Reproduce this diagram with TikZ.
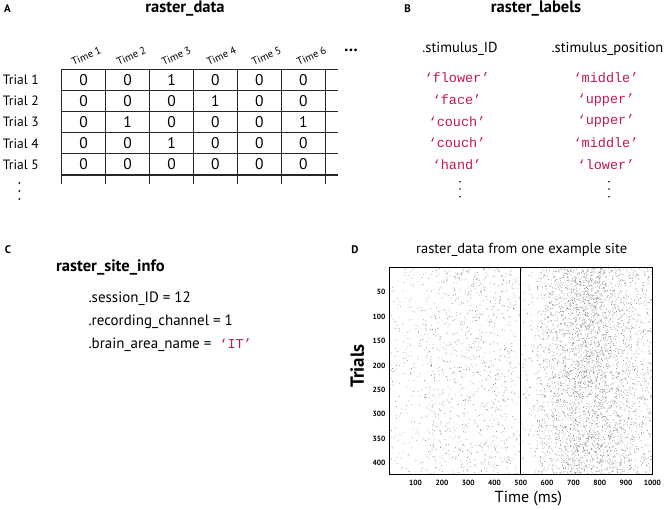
\documentclass[tikz,border=0pt]{standalone}
\usepackage{fontspec}
\setmainfont{PT Sans}
\setmonofont{Liberation Mono}
\definecolor{codered}{RGB}{196,24,80}
\begin{document}
\begin{tikzpicture}[x=1pt,y=-1pt,
  panelletter/.style={font=\bfseries\fontsize{11}{12}\selectfont, inner sep=0},
  ttl/.style={font=\bfseries\fontsize{16.5}{18}\selectfont, inner sep=0},
  body/.style={font=\fontsize{14.5}{16}\selectfont, inner sep=0},
  rowlab/.style={font=\fontsize{13.5}{15}\selectfont, inner sep=0, anchor=west},
  cell/.style={font=\fontsize{15.5}{17}\selectfont, inner sep=0},
  colhead/.style={font=\fontsize{10.5}{12}\selectfont, inner sep=0, rotate=25},
  code/.style={font=\ttfamily\fontsize{13.5}{15}\selectfont, text=codered, inner sep=0},
  grid/.style={line width=1.2pt, draw=black!85},
  tick/.style={font=\bfseries\fontsize{7.5}{8}\selectfont, inner sep=0},
  vdot/.style={fill=black, circle, minimum size=2pt, inner sep=0},
  spike/.style={fill=black!42}
]
\useasboundingbox (0,0) rectangle (669,509);

% ---------- Panel A ----------
\node[panelletter] (lA) at (7.5,8.5) {A};
\node[ttl] (tA) at (185,8.5) {raster\_data};
\foreach \c in {1,...,6}
  \node[colhead] (th\c) at ({86.2+(\c-1)*45.06},56) {Time \c};
\node[font=\bfseries\fontsize{17}{18}\selectfont, inner sep=0] (hdots) at (351,50) {\dots};
% grid
\foreach \k in {0,...,5}
  \draw[grid] (61.7,{69.3+\k*21.14}) -- (338,{69.3+\k*21.14});
\foreach \k in {0,...,6}
  \draw[grid] ({61.7+\k*43.93},69.3) -- ({61.7+\k*43.93},184);
% cells
\foreach \r/\vals in {1/{0,0,1,0,0,0},2/{0,0,0,1,0,0},3/{0,1,0,0,0,1},4/{0,0,1,0,0,0},5/{0,0,0,0,0,0}}{
  \node[rowlab] (tr\r) at (2.7,{69.3+(\r-0.5)*21.14}) {Trial \r};
  \foreach \v [count=\c] in \vals
    \node[cell] (c\r-\c) at ({61.7+(\c-0.5)*43.93},{69.3+(\r-0.5)*21.14}) {\v};
}
\foreach \y [count=\i] in {183,191,199}
  \node[vdot] (ad\i) at (19.3,\y) {};

% ---------- Panel B ----------
\node[panelletter] (lB) at (407.7,8.5) {B};
\node[ttl] (tB) at (536,8.5) {raster\_labels};
\node[body] (hid) at (460,49) {.stimulus\_ID};
\node[body] (hpos) at (607.5,49) {.stimulus\_position};
\foreach \w/\p [count=\i] in {flower/middle,face/upper,couch/upper,couch/middle,hand/lower}{
  \node[code] (id\i) at (457,{78+(\i-1)*21.6}) {‘\w’};
  \node[code] (pos\i) at (606,{78+(\i-1)*21.6}) {‘\p’};
}
\foreach \y [count=\i] in {181.7,189,196.7}{
  \node[vdot, minimum size=1.8pt] (bd\i) at (460,\y) {};
  \node[vdot, minimum size=1.8pt] (be\i) at (609,\y) {};
}

% ---------- Panel C ----------
\node[panelletter] (lC) at (8,250) {C};
\node[ttl, anchor=west] (tC) at (56,267.3) {raster\_site\_info};
\node[body, anchor=west, font=\fontsize{15}{17}\selectfont] (s1) at (88.3,299) {.session\_ID = 12};
\node[body, anchor=west, font=\fontsize{15}{17}\selectfont] (s2) at (88.3,321.7) {.recording\_channel = 1};
\node[body, anchor=west, font=\fontsize{15}{17}\selectfont] (s3) at (88.3,345) {.brain\_area\_name =\hspace{8pt}{\ttfamily\fontsize{13.5}{15}\selectfont\color{codered}‘IT’}};

% ---------- Panel D ----------
\node[panelletter] (lD) at (355,250) {D};
\node[body] (tD) at (521.7,250) {raster\_data from one example site};
\pgfmathsetseed{7}
% baseline spikes
\fill[spike] foreach \i in {1,...,1600} {({389.3+262*rnd},{267.9+205.6*rnd}) rectangle ++(0.75,0.75)};
% weak pre-stimulus band
\fill[spike] foreach \i in {1,...,400} {({389.3+0.263*(150+330*rnd)},{267.9+205.6*rnd}) rectangle ++(0.75,0.75)};
% response
\fill[spike] foreach \i in {1,...,1700} {({389.3+0.263*(560+438*rnd)},{267.9+205.6*rnd}) rectangle ++(0.75,0.75)};
\fill[spike] foreach \i in {1,...,1400} {({389.3+0.263*(600+320*(rnd+rnd)/2)},{267.9+205.6*rnd}) rectangle ++(0.75,0.75)};
\draw[line width=1pt] (389.3,267.9) rectangle (652.3,474.3);
\coordinate (stimtop) at (520.8,267.9);
\coordinate (stimbot) at (520.8,474.3);
\draw[line width=1pt] (stimtop) -- (stimbot);
\foreach \t in {100,200,...,1000}
  \node[tick] (xt\t) at ({389.3+0.263*\t},483.3) {\t};
\foreach \n in {50,100,...,400}
  \node[tick, anchor=east] (yt\n) at (385.5,{267.9+0.488*\n}) {\n};
\node[font=\bfseries\fontsize{19}{21}\selectfont, rotate=90, inner sep=0] (ylab) at (357.3,366) {Trials};
\node[font=\fontsize{16}{18}\selectfont, inner sep=0] (xlab) at (528.5,499) {Time (ms)};
\end{tikzpicture}
\end{document}
